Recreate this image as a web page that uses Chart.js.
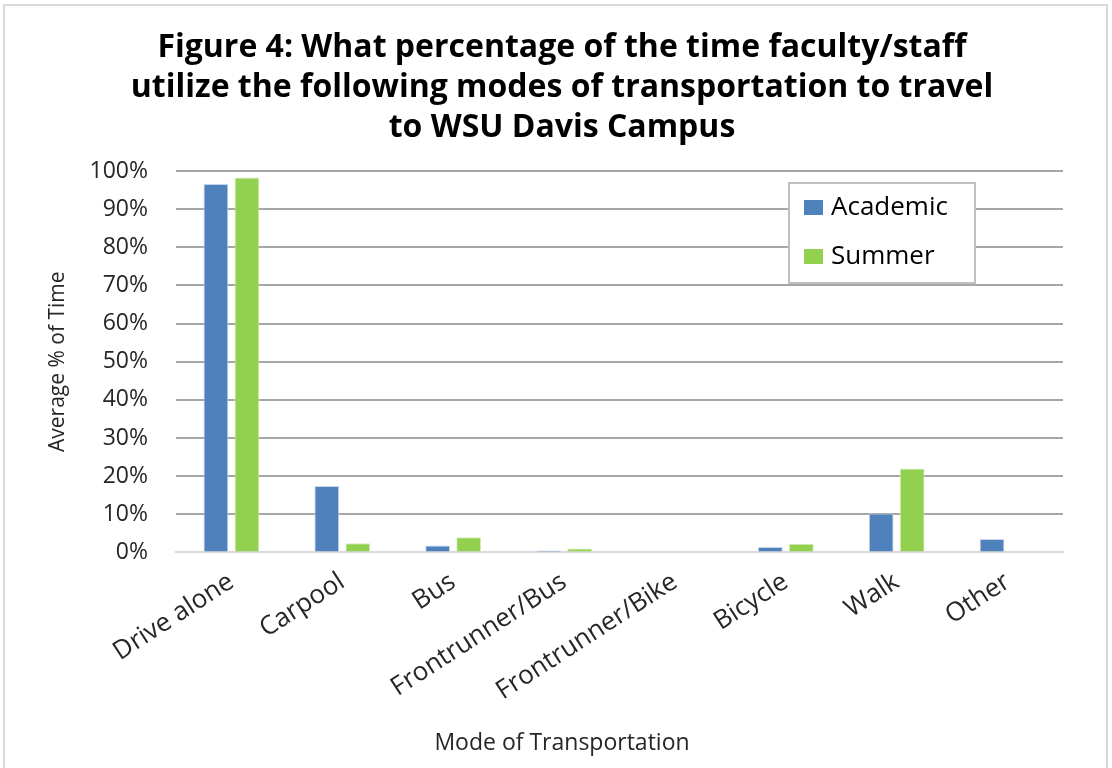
<!DOCTYPE html>
<html>
<head>
<meta charset="utf-8">
<script src="https://cdn.jsdelivr.net/npm/chart.js@4"></script>
<style>
  body { margin: 0; background: #fff; }
  #frame { position: absolute; left: 3px; top: 4px; width: 1101px; height: 770px; border: 2px solid #d9d9d9; }
  #wrap { position: absolute; left: 0; top: 0; width: 1112px; height: 768px; }
</style>
</head>
<body>
<div id="frame"></div>
<div id="wrap"><canvas id="myChart"></canvas></div>
<script>
const categories = ['Drive alone', 'Carpool', 'Bus', 'Frontrunner/Bus', 'Frontrunner/Bike', 'Bicycle', 'Walk', 'Other'];
const academic = [96.6, 17.4, 1.8, 0.5, 0, 1.4, 10.2, 3.5];
const summer = [98.3, 2.4, 4.0, 1.0, 0, 2.3, 22.0, 0];
const seriesNames = ['Academic', 'Summer'];
const seriesColors = ['#4f81bd', '#92d050'];
const yTicks = [0, 10, 20, 30, 40, 50, 60, 70, 80, 90, 100];

const fontFamily = '"Open Sans", "Liberation Sans", sans-serif';
const textColor = '#262626';

// legend box drawn inside the plot area, like the Excel original
const boxLegend = {
  id: 'boxLegend',
  afterDraw(chart) {
    const c = chart.ctx;
    const x = 789, y = 183, w = 186, h = 100;
    c.save();
    c.fillStyle = '#fff';
    c.fillRect(x, y, w, h);
    c.strokeStyle = '#bfbfbf';
    c.lineWidth = 2;
    c.strokeRect(x, y, w, h);
    c.font = '26px ' + fontFamily;
    c.textBaseline = 'middle';
    chart.data.datasets.forEach((ds, i) => {
      const rowY = y + 25 + i * 49;
      c.fillStyle = ds.backgroundColor;
      c.fillRect(x + 15, rowY - 8, 19, 15);
      c.fillStyle = '#000';
      c.fillText(ds.label, x + 42, rowY);
    });
    c.restore();
  },
};

const ctx = document.getElementById('myChart');

new Chart(ctx, {
  type: 'bar',
  data: {
    labels: categories,
    datasets: [
      {
        label: seriesNames[0],
        data: academic,
        backgroundColor: seriesColors[0],
        borderColor: '#c6d5ea',
        borderWidth: 1,
      },
      {
        label: seriesNames[1],
        data: summer,
        backgroundColor: seriesColors[1],
        borderColor: '#d3eebb',
        borderWidth: 1,
      },
    ],
  },
  options: {
    responsive: true,
    maintainAspectRatio: false,
    animation: false,
    layout: {
      padding: {left: 12, right: 0, top: 28, bottom: 0},
    },
    datasets: {
      bar: {
        categoryPercentage: 0.56,
        barPercentage: 0.8,
      },
    },
    plugins: {
      legend: {display: false},
      tooltip: {enabled: false},
      title: {
        display: true,
        text: [
          'Figure 4: What percentage of the time faculty/staff',
          'utilize the following modes of transportation to travel',
          'to WSU Davis Campus',
        ],
        color: '#000',
        font: {family: fontFamily, size: 32, weight: 'bold', lineHeight: 1.25},
        padding: {top: 0, bottom: 23},
      },
      // x axis title, centred on the whole chart as in the original
      subtitle: {
        display: true,
        position: 'bottom',
        text: 'Mode of Transportation',
        color: textColor,
        font: {family: fontFamily, size: 23, weight: 'normal', lineHeight: 1.2},
        padding: {top: 0, bottom: 11},
      },
    },
    scales: {
      x: {
        afterFit: (s) => { s.height = 177; },
        grid: {display: false, drawTicks: false},
        border: {color: '#d9d9d9', width: 2},
        ticks: {
          color: textColor,
          font: {family: fontFamily, size: 26},
          maxRotation: 33,
          minRotation: 33,
          padding: 14,
        },
      },
      y: {
        min: 0,
        max: 100,
        afterFit: (s) => { s.width = 164; },
        afterBuildTicks: (s) => { s.ticks = yTicks.map((v) => ({value: v})); },
        ticks: {
          color: textColor,
          font: {family: fontFamily, size: 23},
          padding: 28,
          callback: (v) => v + '%',
        },
        grid: {color: '#a6a6a6', lineWidth: 2, drawTicks: false},
        border: {display: false},
        title: {
          display: true,
          text: 'Average % of Time',
          color: textColor,
          font: {family: fontFamily, size: 21},
          padding: {top: 33, bottom: 0},
        },
      },
      // empty right-hand band so the plot ends where the original does
      spacer: {
        position: 'right',
        afterFit: (s) => { s.width = 49; },
        grid: {display: false, drawTicks: false},
        border: {display: false},
        ticks: {display: false},
      },
    },
  },
  plugins: [boxLegend],
});
</script>
</body>
</html>
